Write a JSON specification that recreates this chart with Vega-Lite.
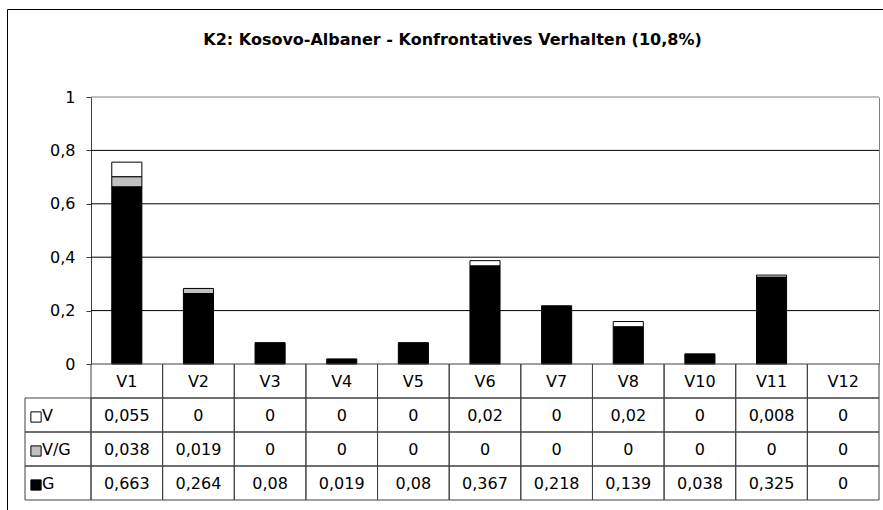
{
  "$schema": "https://vega.github.io/schema/vega-lite/v6.json",
  "width": 877,
  "height": 502,
  "autosize": {"type": "none"},
  "padding": {"left": 7, "top": 9, "right": -1, "bottom": -1},
  "config": {
    "locale": {"number": {"decimal": ",", "thousands": ".", "grouping": [3], "currency": ["", " €"]}},
    "view": {"stroke": "black", "strokeWidth": 1},
    "font": "DejaVu Sans",
    "text": {"font": "DejaVu Sans", "fontSize": 16, "color": "black"}
  },
  "title": {
    "text": "K2: Kosovo-Albaner - Konfrontatives Verhalten (10,8%)",
    "font": "DejaVu Sans",
    "fontSize": 16,
    "fontWeight": "bold",
    "color": "black",
    "anchor": "middle",
    "frame": "group",
    "offset": -39,
    "dx": 7
  },
  "datasets": {
    "shares": [
      {"col": "V1", "series": "V", "value": 0.055},
      {"col": "V1", "series": "V/G", "value": 0.038},
      {"col": "V1", "series": "G", "value": 0.663},
      {"col": "V2", "series": "V", "value": 0},
      {"col": "V2", "series": "V/G", "value": 0.019},
      {"col": "V2", "series": "G", "value": 0.264},
      {"col": "V3", "series": "V", "value": 0},
      {"col": "V3", "series": "V/G", "value": 0},
      {"col": "V3", "series": "G", "value": 0.08},
      {"col": "V4", "series": "V", "value": 0},
      {"col": "V4", "series": "V/G", "value": 0},
      {"col": "V4", "series": "G", "value": 0.019},
      {"col": "V5", "series": "V", "value": 0},
      {"col": "V5", "series": "V/G", "value": 0},
      {"col": "V5", "series": "G", "value": 0.08},
      {"col": "V6", "series": "V", "value": 0.02},
      {"col": "V6", "series": "V/G", "value": 0},
      {"col": "V6", "series": "G", "value": 0.367},
      {"col": "V7", "series": "V", "value": 0},
      {"col": "V7", "series": "V/G", "value": 0},
      {"col": "V7", "series": "G", "value": 0.218},
      {"col": "V8", "series": "V", "value": 0.02},
      {"col": "V8", "series": "V/G", "value": 0},
      {"col": "V8", "series": "G", "value": 0.139},
      {"col": "V10", "series": "V", "value": 0},
      {"col": "V10", "series": "V/G", "value": 0},
      {"col": "V10", "series": "G", "value": 0.038},
      {"col": "V11", "series": "V", "value": 0.008},
      {"col": "V11", "series": "V/G", "value": 0},
      {"col": "V11", "series": "G", "value": 0.325},
      {"col": "V12", "series": "V", "value": 0},
      {"col": "V12", "series": "V/G", "value": 0},
      {"col": "V12", "series": "G", "value": 0}
    ],
    "grid": [{"g": 0.2}, {"g": 0.4}, {"g": 0.6}, {"g": 0.8}, {"g": 1}]
  },
  "layer": [
    {
      "data": {"name": "grid"},
      "mark": {"type": "rule", "strokeWidth": 1},
      "encoding": {
        "x": {"datum": 0, "type": "quantitative", "scale": {"domain": [0, 1], "range": [84, 872]}, "axis": null},
        "x2": {"datum": 1},
        "y": {"field": "g", "type": "quantitative", "scale": {"domain": [0, 1], "range": [355, 88]},
              "axis": {"orient": "right", "offset": -5, "labels": false, "ticks": false, "grid": false, "title": null,
                       "domainColor": "#808080", "domainWidth": 1}},
        "color": {"condition": {"test": "datum.g == 1", "value": "#808080"}, "value": "black"}
      }
    },
    {
      "data": {"name": "shares"},
      "transform": [
        {"filter": "datum.value > 0"},
        {"calculate": "indexof(['G', 'V/G', 'V'], datum.series)", "as": "stackOrder"}
      ],
      "mark": {"type": "bar", "stroke": "black", "strokeWidth": 1},
      "encoding": {
        "x": {"field": "col", "type": "nominal",
              "scale": {"domain": ["V1","V2","V3","V4","V5","V6","V7","V8","V10","V11","V12"], "range": [84, 872], "paddingInner": 0.58, "paddingOuter": 0.29},
              "axis": null},
        "y": {"field": "value", "type": "quantitative", "stack": "zero",
              "scale": {"domain": [0, 1], "range": [355, 88], "nice": false},
              "axis": {"orient": "left", "offset": -84, "values": [0, 0.2, 0.4, 0.6, 0.8, 1], "format": "~g",
                       "grid": false, "title": null, "domainColor": "#404040", "tickColor": "#404040",
                       "tickSize": 5, "labelPadding": 11, "labelFontSize": 16, "labelFont": "DejaVu Sans",
                       "labelColor": "black", "labelFlush": false, "labelOverlap": false}},
        "order": {"field": "stackOrder", "type": "quantitative", "sort": "ascending"},
        "color": {"field": "series", "type": "nominal",
                  "scale": {"domain": ["V", "V/G", "G"], "range": ["white", "#C0C0C0", "black"]}, "legend": null}
      }
    },
    {
      "data": {"name": "shares"},
      "mark": {"type": "rect", "filled": false, "stroke": "#404040", "strokeWidth": 1},
      "encoding": {
        "x": {"field": "col", "type": "nominal",
              "scale": {"domain": ["V1","V2","V3","V4","V5","V6","V7","V8","V10","V11","V12"], "range": [84, 872], "paddingInner": 0, "paddingOuter": 0},
              "axis": null},
        "y": {"field": "series", "type": "nominal",
              "scale": {"domain": ["hdr", "V", "V/G", "G"], "range": [355, 491], "paddingInner": 0, "paddingOuter": 0},
              "axis": null}
      }
    },
    {
      "data": {"name": "shares"},
      "transform": [{"filter": "datum.series == 'G'"}],
      "mark": {"type": "rect", "filled": false, "stroke": "#404040", "strokeWidth": 1},
      "encoding": {
        "x": {"field": "col", "type": "nominal",
              "scale": {"domain": ["V1","V2","V3","V4","V5","V6","V7","V8","V10","V11","V12"], "range": [84, 872], "paddingInner": 0, "paddingOuter": 0},
              "axis": null},
        "y": {"datum": "hdr", "type": "nominal",
              "scale": {"domain": ["hdr", "V", "V/G", "G"], "range": [355, 491], "paddingInner": 0, "paddingOuter": 0},
              "axis": null}
      }
    },
    {
      "data": {"name": "shares"},
      "mark": {"type": "text", "fontSize": 16, "baseline": "middle", "align": "center", "dy": 1},
      "encoding": {
        "x": {"field": "col", "type": "nominal",
              "scale": {"domain": ["V1","V2","V3","V4","V5","V6","V7","V8","V10","V11","V12"], "range": [84, 872], "paddingInner": 0, "paddingOuter": 0},
              "axis": null},
        "y": {"field": "series", "type": "nominal",
              "scale": {"domain": ["hdr", "V", "V/G", "G"], "range": [355, 491], "paddingInner": 0, "paddingOuter": 0},
              "axis": null},
        "text": {"field": "value", "type": "quantitative", "format": "~g"}
      }
    },
    {
      "data": {"name": "shares"},
      "transform": [{"filter": "datum.series == 'G'"}],
      "mark": {"type": "text", "fontSize": 16, "baseline": "middle", "align": "center", "dy": 1},
      "encoding": {
        "x": {"field": "col", "type": "nominal",
              "scale": {"domain": ["V1","V2","V3","V4","V5","V6","V7","V8","V10","V11","V12"], "range": [84, 872], "paddingInner": 0, "paddingOuter": 0},
              "axis": null},
        "y": {"datum": "hdr", "type": "nominal",
              "scale": {"domain": ["hdr", "V", "V/G", "G"], "range": [355, 491], "paddingInner": 0, "paddingOuter": 0},
              "axis": null},
        "text": {"field": "col", "type": "nominal"}
      }
    },
    {
      "data": {"name": "shares"},
      "transform": [{"filter": "datum.col == 'V1'"}],
      "mark": {"type": "rect", "filled": false, "stroke": "#404040", "strokeWidth": 1},
      "encoding": {
        "x": {"datum": "lbl", "type": "nominal", "scale": {"domain": ["lbl"], "range": [18, 84], "paddingInner": 0, "paddingOuter": 0}, "axis": null},
        "y": {"field": "series", "type": "nominal",
              "scale": {"domain": ["hdr", "V", "V/G", "G"], "range": [355, 491], "paddingInner": 0, "paddingOuter": 0},
              "axis": null}
      }
    },
    {
      "data": {"name": "shares"},
      "transform": [{"filter": "datum.col == 'V1'"}],
      "mark": {"type": "point", "shape": "square", "size": 105, "filled": true, "stroke": "black", "strokeWidth": 1, "opacity": 1, "xOffset": -22, "yOffset": 2},
      "encoding": {
        "x": {"datum": "lbl", "type": "nominal", "scale": {"domain": ["lbl"], "range": [18, 84], "paddingInner": 0, "paddingOuter": 0}, "axis": null},
        "y": {"field": "series", "type": "nominal",
              "scale": {"domain": ["hdr", "V", "V/G", "G"], "range": [355, 491], "paddingInner": 0, "paddingOuter": 0},
              "axis": null},
        "color": {"field": "series", "type": "nominal",
                  "scale": {"domain": ["V", "V/G", "G"], "range": ["white", "#C0C0C0", "black"]}, "legend": null}
      }
    },
    {
      "data": {"name": "shares"},
      "transform": [{"filter": "datum.col == 'V1'"}],
      "mark": {"type": "text", "fontSize": 16, "baseline": "middle", "align": "left", "dx": -16, "dy": 1},
      "encoding": {
        "x": {"datum": "lbl", "type": "nominal", "scale": {"domain": ["lbl"], "range": [18, 84], "paddingInner": 0, "paddingOuter": 0}, "axis": null},
        "y": {"field": "series", "type": "nominal",
              "scale": {"domain": ["hdr", "V", "V/G", "G"], "range": [355, 491], "paddingInner": 0, "paddingOuter": 0},
              "axis": null},
        "text": {"field": "series", "type": "nominal"}
      }
    }
  ],
  "resolve": {
    "scale": {"x": "independent", "y": "independent", "color": "independent"},
    "axis": {"x": "independent", "y": "independent"}
  }
}
